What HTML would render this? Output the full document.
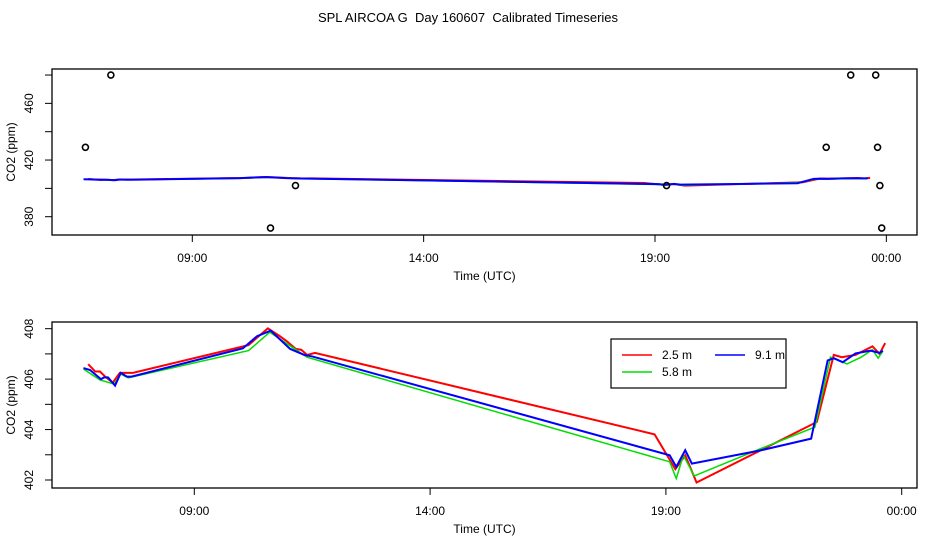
<!DOCTYPE html>
<html><head><meta charset="utf-8"><style>
body{margin:0;background:#fff;}
svg{display:block;font-family:"Liberation Sans",sans-serif;}
</style></head><body>
<svg id="c" width="936" height="540" xmlns="http://www.w3.org/2000/svg">
<text x="468" y="22" font-size="13" text-anchor="middle" style="white-space:pre" xml:space="preserve">SPL AIRCOA G  Day 160607  Calibrated Timeseries</text>
</svg>
<script>
const redT=[6.75,6.9,7.0,7.11,7.27,7.42,7.7,10.15,10.56,10.8,10.97,11.15,11.27,11.39,11.56,18.76,19.2,19.41,19.65,22.2,22.56,22.73,23.02,23.38,23.53,23.65];
const redV=[406.59,406.3,406.3,406.1,405.86,406.25,406.25,407.35,408.01,407.72,407.49,407.2,407.16,406.96,407.04,403.81,402.43,402.98,401.9,404.3,406.96,406.87,406.96,407.3,407.0,407.43];
const greenT=[6.65,7.0,7.3,7.44,7.6,10.15,10.6,11.39,19.08,19.22,19.37,19.6,21.02,22.16,22.49,22.84,23.14,23.38,23.5,23.6];
const greenV=[406.4,405.97,405.8,406.2,406.05,407.13,407.86,406.87,402.72,402.06,402.98,402.16,403.25,404.1,406.87,406.6,406.87,407.17,406.83,407.1];
const blueT=[6.65,6.79,7.02,7.09,7.17,7.32,7.44,7.57,7.67,10.03,10.33,10.62,11.03,11.33,11.5,19.08,19.22,19.41,19.55,21.02,22.08,22.43,22.56,22.75,23.02,23.34,23.53,23.6];
const blueV=[406.44,406.36,406.0,406.07,406.07,405.74,406.25,406.1,406.1,407.22,407.7,407.92,407.2,406.96,406.9,402.98,402.52,403.18,402.65,403.18,403.64,406.74,406.83,406.67,407.02,407.13,407.04,407.13];
const outT=[6.69,7.24,10.69,11.23,19.25,22.7,23.23,23.77,23.81,23.86,23.9];
const outV=[429,480,372,402,402,429,480,480,429,402,372];
const xTickHours=[9,14,19,24];
const xTickLabels=["09:00","14:00","19:00","00:00"];
const topYTicks=[380,400,420,440,460,480];
const topYLabels=[380,420,460];
const botYTicks=[402,403,404,405,406,407,408];
const botYLabels=[402,404,406,408];

const svg=document.getElementById('c');
const NS="http://www.w3.org/2000/svg";
function mk(tag,attrs,parent){const e=document.createElementNS(NS,tag);for(const k in attrs)e.setAttribute(k,attrs[k]);(parent||svg).appendChild(e);return e;}

function panel(name,box,xs,ys,yTicks,yLabels,series,outliers){
  const g=mk('g',{});
  
  
  const r=mk('rect',{x:box.l,y:box.t,width:box.r-box.l,height:box.b-box.t,fill:'none',stroke:'#000','stroke-width':1.3},g);
  
  
  xTickHours.forEach((h,i)=>{
    const x=xs(h);
    const t=mk('line',{x1:x,x2:x,y1:box.b,y2:box.b+7,stroke:'#000'},g);
    
    
    const tx=mk('text',{x:x,y:box.b+27,'font-size':12,'text-anchor':'middle'},g);
    tx.textContent=xTickLabels[i];
    
    
  });
  yTicks.forEach(v=>{
    const y=ys(v);
    const t=mk('line',{x1:box.l-7,x2:box.l,y1:y,y2:y,stroke:'#000'},g);
    
    
  });
  yLabels.forEach(v=>{
    const y=ys(v);
    const tx=mk('text',{x:0,y:0,'font-size':12,'text-anchor':'middle',transform:`translate(33,${y}) rotate(-90)`},g);
    tx.textContent=v;
    
    
  });
  const xl=mk('text',{x:(box.l+box.r)/2,y:box.b+45,'font-size':12,'text-anchor':'middle'},g);
  xl.textContent='Time (UTC)';
  
  
  const yl=mk('text',{x:0,y:0,'font-size':12,'text-anchor':'middle',transform:`translate(15,${(box.t+box.b)/2}) rotate(-90)`},g);
  yl.textContent='CO2 (ppm)';
  
  
  series.forEach(s=>{
    const p=mk('polyline',{points:s.t.map((h,i)=>xs(h)+','+ys(s.v[i])).join(' '),fill:'none',stroke:s.c,'stroke-width':s.w},g);
    
    
  });
  if(outliers){
    outT.forEach((h,i)=>{
      const c=mk('circle',{cx:xs(h),cy:ys(outV[i]),r:3,fill:'none',stroke:'#000','stroke-width':1.6},g);
      
      
    });
  }
}
const series=[{t:redT,v:redV,c:'#f00',n:'series-2-5m',w:2},{t:greenT,v:greenV,c:'#00dd00',n:'series-5-8m',w:1.5},{t:blueT,v:blueV,c:'#00f',n:'series-9-1m',w:2}];
const topBox={l:52,r:917,t:69,b:235};
panel('top-panel',topBox,h=>192.3+(h-9)*46.27,v=>216.7-(v-380)*1.4167,topYTicks,topYLabels,series,true);
const botBox={l:52,r:917,t:322,b:488};
panel('bottom-panel',botBox,h=>194.3+(h-9)*47.16,v=>480-(v-402)*25.22,botYTicks,botYLabels,series,false);

const lg=mk('g',{});


const lr=mk('rect',{x:611,y:339,width:175,height:49,fill:'#fff',stroke:'#000','stroke-width':1.2},lg);


[[622,355,'#f00','2.5 m'],[715,355,'#00f','9.1 m'],[622,372,'#00dd00','5.8 m']].forEach(e=>{
  const l=mk('line',{x1:e[0],x2:e[0]+30,y1:e[1],y2:e[1],stroke:e[2],'stroke-width':1.5},lg);
  
  
  const t=mk('text',{x:e[0]+40,y:e[1]+4,'font-size':12},lg);
  t.textContent=e[3];
  
  
});
</script>
</body></html>
